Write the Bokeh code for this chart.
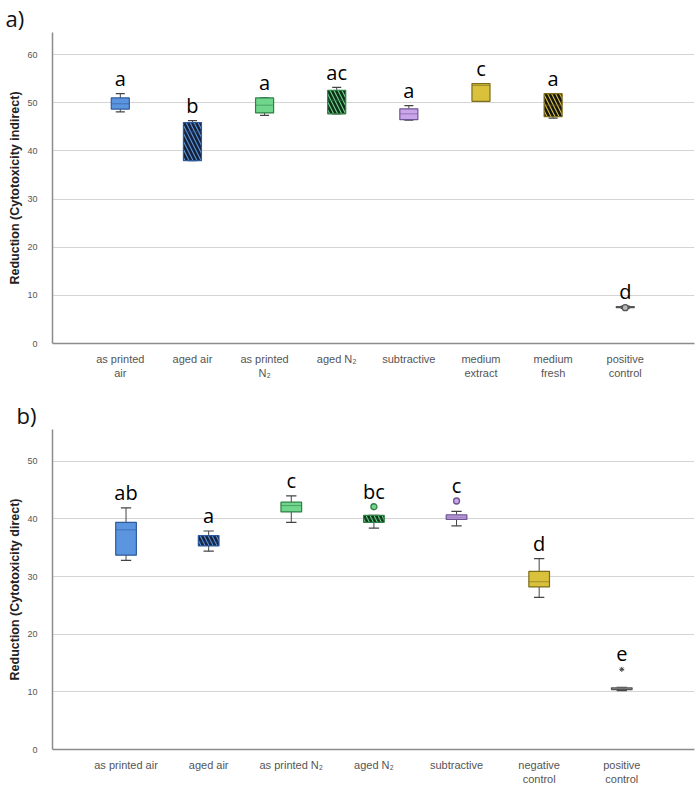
from bokeh.plotting import figure
from bokeh.layouts import column
from bokeh.models import Range1d, FixedTicker, ColumnDataSource
from bokeh.embed import file_html
from bokeh.resources import INLINE
from bokeh.core.properties import value

# ---------------- panel a: indirect cytotoxicity ----------------
a_groups = ["as printed\nair", "aged air", "as printed\nN\u2082", "aged N\u2082",
            "subtractive", "medium\nextract", "medium\nfresh", "positive\ncontrol"]
a_whisk_lo = [48.1, 38.0, 47.4, 47.7, 46.4, 50.3, 46.8, 7.3]
a_q1 = [48.7, 38.0, 47.9, 47.7, 46.5, 50.3, 47.1, 7.45]
a_median = [49.8, 44.0, 49.5, 50.5, 47.7, 53.6, 49.5, 7.55]
a_q3 = [51.0, 45.9, 51.0, 52.6, 48.75, 54.0, 51.9, 7.65]
a_whisk_hi = [51.9, 46.3, 51.0, 53.2, 49.4, 54.0, 51.9, 7.75]
a_letters = ["a", "b", "a", "ac", "a", "c", "a", "d"]
a_outlier_group = [8]
a_outlier_value = [7.45]
a_outlier_kind = ["circle"]

# ---------------- panel b: direct cytotoxicity ----------------
b_groups = ["as printed air", "aged air", "as printed N\u2082", "aged N\u2082",
            "subtractive", "negative\ncontrol", "positive\ncontrol"]
b_whisk_lo = [32.8, 34.4, 39.4, 38.4, 38.8, 26.4, 10.2]
b_q1 = [33.7, 35.3, 41.2, 39.4, 39.9, 28.2, 10.4]
b_median = [38.1, 36.0, 42.3, 40.0, 40.3, 29.1, 10.5]
b_q3 = [39.4, 37.1, 42.9, 40.6, 40.7, 30.9, 10.7]
b_whisk_hi = [41.9, 37.9, 44.0, 40.6, 41.3, 33.1, 10.8]
b_letters = ["ab", "a", "c", "bc", "c", "d", "e"]
b_outlier_group = [4, 5, 7]
b_outlier_value = [42.1, 43.1, 13.9]
b_outlier_kind = ["circle", "circle", "asterisk"]

# fill / outline / hatch styling per box
BLUE, BLUE_L = "#5b95e0", "#2f5a99"
GREEN, GREEN_L = "#6fd68b", "#2f8047"
PURPLE, PURPLE_L = "#caa5ea", "#6f5690"
YELLOW, YELLOW_L = "#d9c13c", "#7d6d1c"
GRAY, GRAY_L = "#b8b8b8", "#555555"

a_fill = [BLUE, BLUE, GREEN, GREEN, PURPLE, YELLOW, YELLOW, GRAY]
a_line = [BLUE_L, BLUE_L, GREEN_L, GREEN_L, PURPLE_L, YELLOW_L, YELLOW_L, GRAY_L]
a_hatch = ["blank", "left_diagonal_line", "blank", "left_diagonal_line",
           "blank", "blank", "left_diagonal_line", "blank"]
a_hatch_col = ["#000000", "#16223a", "#000000", "#10301a", "#000000", "#000000", "#151515", "#000000"]

b_fill = [BLUE, BLUE, GREEN, GREEN, PURPLE, YELLOW, GRAY]
b_line = [BLUE_L, BLUE_L, GREEN_L, GREEN_L, PURPLE_L, YELLOW_L, GRAY_L]
b_hatch = ["blank", "left_diagonal_line", "blank", "left_diagonal_line",
           "blank", "blank", "blank"]
b_hatch_col = ["#000000", "#16223a", "#000000", "#10301a", "#000000", "#000000", "#000000"]

LETTER_FONT = "Open Sans"
TICK_FONT = "Liberation Sans"


def make_panel(groups, wlo, q1, med, q3, whi, letters, og, ov, okind,
               fills, lines, hatches, hatch_cols, ylabel, y_end, x_start, x_end,
               width, height, border_top, border_bottom, panel_text,
               tag_offset, box_w):
    n = len(groups)
    xs = list(range(1, n + 1))
    p = figure(width=width, height=height, output_backend="svg", toolbar_location=None,
               x_range=Range1d(x_start, x_end), y_range=Range1d(0, y_end),
               min_border_left=52, min_border_right=6,
               min_border_top=border_top, min_border_bottom=border_bottom)
    p.outline_line_color = None
    p.background_fill_color = "white"
    p.border_fill_color = "white"

    # panel tag as a left-aligned title
    p.title.text = panel_text
    p.title.text_font = LETTER_FONT
    p.title.text_font_size = "22px"
    p.title.text_font_style = "normal"
    p.title.text_color = "#111111"
    p.title.align = "left"
    p.title.offset = tag_offset
    p.title.standoff = 0

    # grid and axes
    p.xgrid.grid_line_color = None
    p.ygrid.grid_line_color = "#d4d4d4"
    p.ygrid.grid_line_width = 1.2
    p.yaxis.ticker = FixedTicker(ticks=list(range(0, int(y_end) + 1, 10)))
    p.xaxis.ticker = FixedTicker(ticks=xs)
    p.xaxis.major_label_overrides = {i: g for i, g in zip(xs, groups)}
    for ax in (p.xaxis, p.yaxis):
        ax.axis_line_color = "#8c8c8c"
        ax.axis_line_width = 1.5
        ax.major_tick_line_color = None
        ax.minor_tick_line_color = None
        ax.major_label_text_font = TICK_FONT
        ax.major_label_text_color = "#555555"
    p.xaxis.major_label_text_font_size = "11px"
    p.xaxis.major_label_standoff = 3
    p.yaxis.major_label_text_font_size = "9px"
    p.yaxis.major_label_standoff = 9
    p.yaxis.axis_label = ylabel
    p.yaxis.axis_label_text_font = TICK_FONT
    p.yaxis.axis_label_text_font_size = "12.5px"
    p.yaxis.axis_label_text_font_style = "bold"
    p.yaxis.axis_label_text_color = "#222222"
    p.yaxis.axis_label_standoff = 2

    src = ColumnDataSource(dict(x=xs, lo=wlo, q1=q1, med=med, q3=q3, hi=whi,
                                fill=fills, line=lines, hatch=hatches, hcol=hatch_cols,
                                left=[x - box_w / 2 for x in xs], right=[x + box_w / 2 for x in xs],
                                cl=[x - box_w / 4 for x in xs], cr=[x + box_w / 4 for x in xs]))

    # whiskers and caps
    p.segment(x0="x", y0="lo", x1="x", y1="q1", source=src, line_color="#444444", line_width=1)
    p.segment(x0="x", y0="q3", x1="x", y1="hi", source=src, line_color="#444444", line_width=1)
    p.segment(x0="cl", y0="lo", x1="cr", y1="lo", source=src, line_color="#444444", line_width=1.2)
    p.segment(x0="cl", y0="hi", x1="cr", y1="hi", source=src, line_color="#444444", line_width=1.2)

    # boxes
    p.vbar(x="x", width=box_w, bottom="q1", top="q3", source=src,
           fill_color="fill", line_color="line", line_width=1.2,
           hatch_pattern="hatch", hatch_color="hcol", hatch_scale=8, hatch_weight=2.5)
    # medians
    p.segment(x0="left", y0="med", x1="right", y1="med", source=src,
              line_color="line", line_width=1, line_alpha=0.6)

    # outliers
    for g, v, k in zip(og, ov, okind):
        if k == "asterisk":
            p.scatter([g], [v], marker="asterisk", size=5, line_color="#444444", line_width=1)
        else:
            p.scatter([g], [v], marker="circle", size=6, fill_color=fills[g - 1],
                      line_color=lines[g - 1], line_width=1.3)

    # significance letters above each group
    tops = []
    for i, x in enumerate(xs):
        t = whi[i]
        for g, v in zip(og, ov):
            if g == x:
                t = max(t, v)
        tops.append(t)
    p.text(x=xs, y=tops, text=letters, text_font=value(LETTER_FONT), text_font_size="20px",
           text_align="center", text_baseline="alphabetic", y_offset=-15,
           text_color="#000000")
    return p


pa = make_panel(a_groups, a_whisk_lo, a_q1, a_median, a_q3, a_whisk_hi, a_letters,
                a_outlier_group, a_outlier_value, a_outlier_kind,
                a_fill, a_line, a_hatch, a_hatch_col,
                "Reduction (Cytotoxicity indirect)", 64.6, 0.06, 8.96,
                700, 385, 5, 42, "a)", -47, 0.25)

pb = make_panel(b_groups, b_whisk_lo, b_q1, b_median, b_q3, b_whisk_hi, b_letters,
                b_outlier_group, b_outlier_value, b_outlier_kind,
                b_fill, b_line, b_hatch, b_hatch_col,
                "Reduction (Cytotoxicity direct)", 55.5, 0.11, 7.88,
                700, 402, 44, 37, "b)", -36, 0.25)

layout = column(pa, pb, spacing=0)
open("out.html", "w").write(file_html(layout, INLINE))
